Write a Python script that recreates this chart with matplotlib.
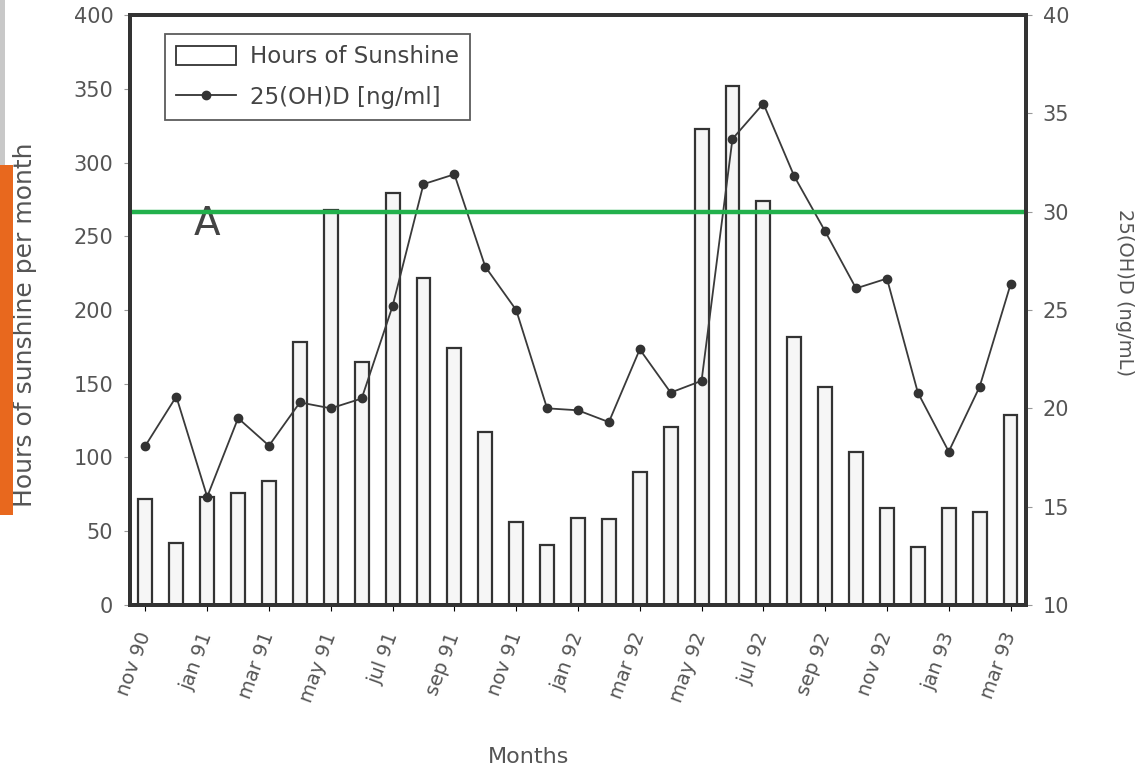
import numpy as np
import matplotlib.pyplot as plt
from matplotlib.patches import Rectangle
from matplotlib.lines import Line2D

# monthly data nov 90 .. mar 93
months = ['nov 90', 'dec 90', 'jan 91', 'feb 91', 'mar 91', 'apr 91', 'may 91', 'jun 91',
          'jul 91', 'aug 91', 'sep 91', 'oct 91', 'nov 91', 'dec 91', 'jan 92', 'feb 92',
          'mar 92', 'apr 92', 'may 92', 'jun 92', 'jul 92', 'aug 92', 'sep 92', 'oct 92',
          'nov 92', 'dec 92', 'jan 93', 'feb 93', 'mar 93']
sunshine = [72, 42, 73, 76, 84, 178, 268, 165, 279, 222, 174, 117, 56, 41, 59,
            58, 90, 121, 323, 352, 274, 182, 148, 104, 66, 39, 66, 63, 129]
vitd = [18.1, 20.6, 15.5, 19.5, 18.1, 20.3, 20.0, 20.5, 25.2, 31.4, 31.9, 27.2, 25.0,
        20.0, 19.9, 19.3, 23.0, 20.8, 21.4, 33.7, 35.5, 31.8, 29.0, 26.1, 26.6,
        20.8, 17.8, 21.1, 26.3]
left_ticks = [0, 50, 100, 150, 200, 250, 300, 350, 400]
right_ticks = [10, 15, 20, 25, 30, 35, 40]
threshold = 30

x = np.arange(len(months))
txt = '#555555'

fig = plt.figure(figsize=(11.47, 7.70), dpi=100)
ax = fig.add_axes([0.1133, 0.2143, 0.7812, 0.7662])
ax2 = ax.twinx()

ax.bar(x, sunshine, width=0.45, facecolor='#f6f6f6', edgecolor='#333333', linewidth=1.6)
ax.set_xlim(-0.5, len(months) - 0.5)
ax.set_ylim(0, 400)
ax.set_yticks(left_ticks)
ax.set_xticks(x[::2])
ax.set_xticklabels(months[::2], rotation=70, ha='right', va='center', rotation_mode='anchor',
                   fontsize=14, color=txt)
ax.tick_params(axis='x', length=4, pad=16)
ax.tick_params(axis='y', labelsize=15, labelcolor=txt, length=4, pad=8, color='#999999')
ax.set_ylabel('Hours of sunshine per month', fontsize=18, color=txt)
ax.yaxis.set_label_coords(-0.104, 0.475)
ax.set_xlabel('Months', fontsize=16, color=txt)
ax.xaxis.set_label_coords(0.445, -0.24)

ax2.plot(x, vitd, color='#3a3a3a', lw=1.3, marker='o', ms=6, mfc='#333333', mec='#333333')
ax2.set_ylim(10, 40)
ax2.set_yticks(right_ticks)
ax2.tick_params(axis='y', labelsize=15, labelcolor=txt, length=4, pad=8, color='#999999')
ax2.set_ylabel('25(OH)D (ng/mL)', fontsize=14, color=txt, rotation=270, labelpad=45)
ax2.yaxis.set_label_coords(1.12, 0.53)

ax2.axhline(threshold, xmin=0, xmax=0.995, color='#22b14c', lw=3.2)

for a in (ax, ax2):
    for s in a.spines.values():
        s.set_linewidth(2.8)
        s.set_color('#333333')

ax.text(2.0, 258, 'A', fontsize=28, color='#444444', ha='center', va='center')

handles = [Rectangle((0, 0), 1, 1, facecolor='white', edgecolor='#333333', lw=1.3),
           Line2D([], [], color='#333333', lw=1.3, marker='o', ms=6)]
leg = ax2.legend(handles, ['Hours of Sunshine', '25(OH)D [ng/ml]'], loc='upper left',
                 bbox_to_anchor=(0.039, 0.968), borderaxespad=0, fontsize=16.5, frameon=True,
                 fancybox=False, edgecolor='#333333', handlelength=2.6, handleheight=0.9,
                 borderpad=0.5, labelspacing=0.75, handletextpad=0.6)
leg.get_frame().set_linewidth(1.3)
for t in leg.get_texts():
    t.set_color('#444444')

# side strips from the page
fig.patches.append(Rectangle((0, 1 - 515 / 770), 13 / 1147, 350 / 770, transform=fig.transFigure,
                             facecolor='#e8681e', edgecolor='none', zorder=5))
fig.patches.append(Rectangle((0, 1 - 165 / 770), 5 / 1147, 165 / 770, transform=fig.transFigure,
                             facecolor='#c8c8c8', edgecolor='none', zorder=5))

fig.savefig('out.png', dpi=100)
